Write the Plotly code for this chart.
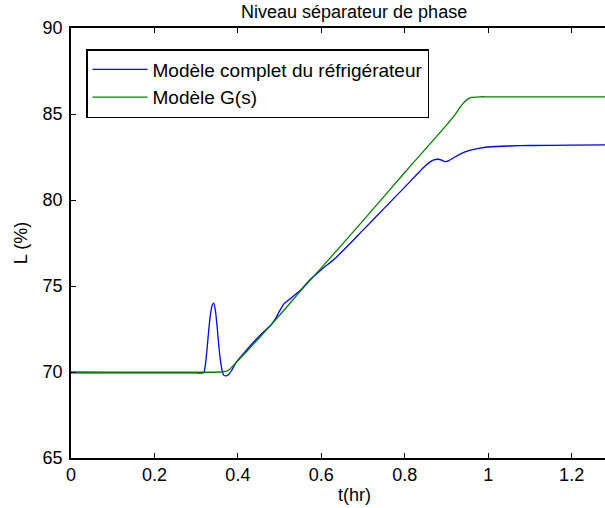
import plotly.graph_objects as go

# Data
t_full = [0, 0.30, 0.318, 0.322, 0.326, 0.330, 0.334, 0.338, 0.342, 0.346, 0.350,
          0.354, 0.358, 0.362, 0.366, 0.372, 0.378, 0.385, 0.397, 0.42, 0.44, 0.46,
          0.48, 0.49, 0.50, 0.51, 0.52, 0.54, 0.55, 0.57, 0.60, 0.633, 0.70, 0.75,
          0.80, 0.85, 0.86, 0.87, 0.88, 0.89, 0.896, 0.905, 0.92, 0.94, 0.96, 0.98,
          1.0, 1.05, 1.1, 1.2, 1.28]
L_full = [69.95, 69.95, 69.95, 70.4, 71.3, 72.4, 73.3, 73.85, 74.0, 73.6, 72.7,
          71.6, 70.7, 70.1, 69.82, 69.77, 69.85, 70.1, 70.6, 71.25, 71.8, 72.3,
          72.75, 73.1, 73.55, 73.95, 74.15, 74.55, 74.75, 75.3, 75.95, 76.6, 78.25, 79.5,
          80.75, 82.0, 82.2, 82.33, 82.37, 82.3, 82.23, 82.28, 82.5, 82.75, 82.92, 83.02,
          83.08, 83.14, 83.17, 83.19, 83.2]

t_gs = [0, 0.36, 0.37, 0.38, 0.39, 0.40, 0.45, 0.50, 0.55, 0.60, 0.70, 0.80,
        0.90, 0.92, 0.93, 0.94, 0.95, 0.96, 0.98, 1.0, 1.28]
L_gs = [70, 70, 70.03, 70.15, 70.4, 70.65, 71.95, 73.3, 74.7, 76.05, 78.8, 81.6,
        84.35, 84.95, 85.3, 85.62, 85.85, 85.96, 86.0, 86.0, 86.0]

x_ticks = [0, 0.2, 0.4, 0.6, 0.8, 1, 1.2]
y_ticks = [65, 70, 75, 80, 85, 90]

font = dict(family='Liberation Sans, Arial, sans-serif', size=18, color='black')

W, H = 605, 508
# plot area in pixels (left, right, top, bottom)
px_l, px_r, px_t, px_b = 71, W, 28, 458


def fx(x):
    return (x - px_l) / (px_r - px_l)


def fy(y):
    return (px_b - y) / (px_b - px_t)


fig = go.Figure()

fig.add_trace(go.Scatter(
    x=t_full, y=L_full, mode='lines',
    name='Modèle complet du réfrigérateur',
    line=dict(color='#0000FF', width=1.3, shape='spline', smoothing=0.6)
))

fig.add_trace(go.Scatter(
    x=t_gs, y=L_gs, mode='lines',
    name='Modèle G(s)',
    line=dict(color='#008000', width=1.3, shape='spline', smoothing=0.6)
))

fig.update_layout(
    width=W, height=H,
    margin=dict(l=px_l, r=W - px_r, t=px_t, b=H - px_b),
    paper_bgcolor='white', plot_bgcolor='white',
    font=font,
    showlegend=True,
    legend=dict(x=fx(86), y=fy(49), xanchor='left', yanchor='top',
                bordercolor='black', borderwidth=1.5, bgcolor='white',
                font=dict(family=font['family'], size=19, color='black'),
                tracegroupgap=0, itemwidth=55),
    annotations=[
        dict(text='Niveau séparateur de phase', x=fx(354), y=fy(12),
             xref='paper', yref='paper', xanchor='center', yanchor='middle',
             showarrow=False, font=font),
        dict(text='t(hr)', x=fx(354), y=fy(495),
             xref='paper', yref='paper', xanchor='center', yanchor='middle',
             showarrow=False, font=font),
    ],
)

fig.update_xaxes(
    range=[0, 1.28], tickvals=x_ticks, ticktext=[str(v) for v in x_ticks],
    showgrid=False, zeroline=False, automargin=False,
    showline=True, linecolor='black', linewidth=1.5, mirror='ticks',
    ticks='inside', ticklen=5, tickcolor='black', tickfont=font
)
fig.update_yaxes(
    range=[65, 90], tickvals=y_ticks,
    showgrid=False, zeroline=False, automargin=False,
    showline=True, linecolor='black', linewidth=1.5, mirror=False,
    ticks='inside', ticklen=5, tickcolor='black', tickfont=font,
    ticklabelstandoff=3,
    title=dict(text='L (%)', font=font, standoff=10)
)

# drop the browser's default page margin so the figure fills the window
fig.write_html('out.html', config={'displayModeBar': False},
               post_script="document.body.style.margin='0px';")
